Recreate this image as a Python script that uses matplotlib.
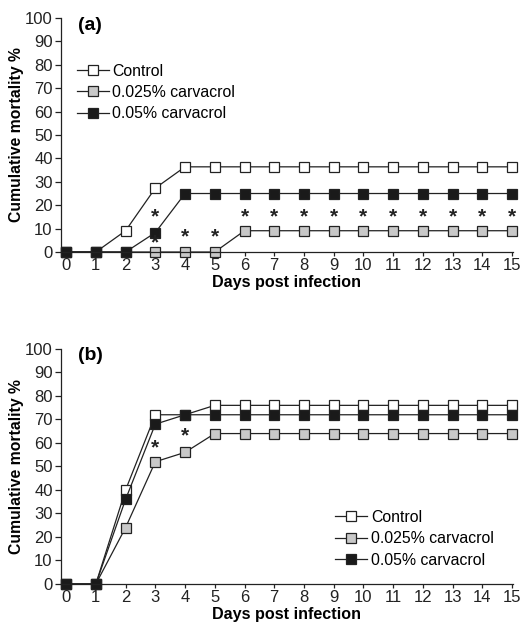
import matplotlib
matplotlib.use("Agg")
import matplotlib.pyplot as plt

plt.rcParams["font.family"] = ["Liberation Sans", "DejaVu Sans"]

days = [0, 1, 2, 3, 4, 5, 6, 7, 8, 9, 10, 11, 12, 13, 14, 15]
series_names = ["Control", "0.025% carvacrol", "0.05% carvacrol"]

# panel (a)
a_control = [0, 0, 9.1, 27.3, 36.4, 36.4, 36.4, 36.4, 36.4, 36.4, 36.4, 36.4, 36.4, 36.4, 36.4, 36.4]
a_low = [0, 0, 0, 0, 0, 0, 9.1, 9.1, 9.1, 9.1, 9.1, 9.1, 9.1, 9.1, 9.1, 9.1]
a_high = [0, 0, 0, 8.3, 25, 25, 25, 25, 25, 25, 25, 25, 25, 25, 25, 25]
a_star_x = [3, 3, 4, 5, 6, 7, 8, 9, 10, 11, 12, 13, 14, 15]
a_star_y = [15, 4, 6.5, 6.5, 15, 15, 15, 15, 15, 15, 15, 15, 15, 15]

# panel (b)
b_control = [0, 0, 40, 72, 72, 76, 76, 76, 76, 76, 76, 76, 76, 76, 76, 76]
b_low = [0, 0, 24, 52, 56, 64, 64, 64, 64, 64, 64, 64, 64, 64, 64, 64]
b_high = [0, 0, 36, 68, 72, 72, 72, 72, 72, 72, 72, 72, 72, 72, 72, 72]
b_star_x = [3, 4]
b_star_y = [58, 63]

face_colors = ["white", "#c8c8c8", "#1a1a1a"]


def draw_panel(ax, ys, star_x, star_y, tag, legend_anchor):
    for y, name, fc in zip(ys, series_names, face_colors):
        ax.plot(days, y, "-", color="#222222", lw=0.9, marker="s", ms=7.8,
                mfc=fc, mec="#222222", mew=0.9, label=name, clip_on=False)
    for sx, sy in zip(star_x, star_y):
        ax.text(sx, sy, "*", ha="center", va="center", fontsize=15,
                fontweight="bold", color="#222222")
    ax.set_xlim(-0.17, 15.02)
    ax.set_ylim(0, 100)
    ax.set_xticks(days)
    ax.set_yticks(range(0, 101, 10))
    for s in ["top", "right"]:
        ax.spines[s].set_visible(False)
    for s in ["left", "bottom"]:
        ax.spines[s].set_linewidth(0.9)
        ax.spines[s].set_color("#222222")
    ax.tick_params(axis="y", direction="out", length=4, width=0.9, labelsize=12,
                   pad=2, colors="#222222")
    ax.tick_params(axis="x", direction="out", length=3, width=0.9, labelsize=12,
                   pad=1.5, colors="#222222")
    ax.set_xlabel("Days post infection", fontsize=11.6, fontweight="bold", labelpad=1)
    ax.set_ylabel("Cumulative mortality %", fontsize=11.3, fontweight="bold", labelpad=0.5)
    ax.text(0.037, 0.97, tag, transform=ax.transAxes, fontsize=14,
            fontweight="bold", va="center", ha="left")
    ax.legend(loc="upper left", bbox_to_anchor=legend_anchor, frameon=False,
              fontsize=11.4, handlelength=2.0, handletextpad=0.25,
              labelspacing=0.4, borderaxespad=0, borderpad=0)


fig = plt.figure(figsize=(5.31, 6.31), dpi=100)
ax_a = fig.add_axes([0.115, 0.6006, 0.8505, 0.3709])
ax_b = fig.add_axes([0.115, 0.0745, 0.8505, 0.3725])

draw_panel(ax_a, [a_control, a_low, a_high], a_star_x, a_star_y, "(a)", (0.035, 0.805))
draw_panel(ax_b, [b_control, b_low, b_high], b_star_x, b_star_y, "(b)", (0.607, 0.315))

fig.savefig("out.png", dpi=100)
